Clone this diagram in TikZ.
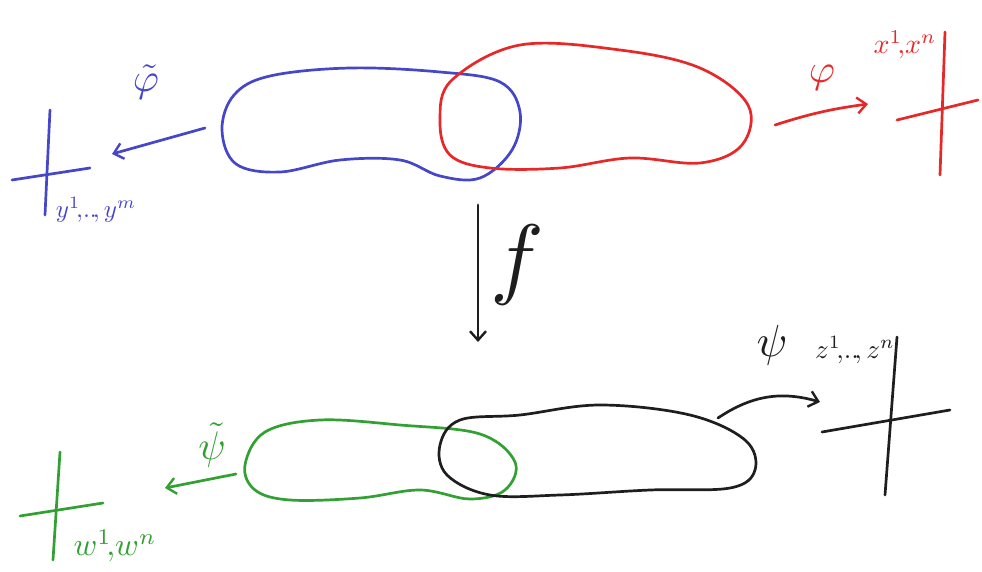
\documentclass[tikz,border=0pt]{standalone}
\usepackage{graphicx}
\usetikzlibrary{arrows.meta}
\definecolor{pblue}{RGB}{70,70,200}
\definecolor{pred}{RGB}{230,40,40}
\definecolor{pgreen}{RGB}{50,160,50}
\definecolor{pblack}{RGB}{30,30,30}
\tikzset{
  ink/.style={line width=2.7pt, line cap=round, line join=round},
  mapar/.style={ink, -{Straight Barb[length=9pt,width=16pt,line width=2.4pt]}},
  lab/.style={inner sep=0pt},
}
\begin{document}
\begin{tikzpicture}[x=1pt,y=-1pt]
\useasboundingbox (0,0) rectangle (982,572);
% blobs
\draw[ink,pblue] plot[smooth cycle, tension=0.6] coordinates {(222,130) (234,95) (270,76) (350,68) (440,72) (500,82) (520,112) (512,150) (480,178) (440,176) (400,160) (340,160) (280,172) (236,164)};
\draw[ink,pred] plot[smooth cycle, tension=0.6] coordinates {(440,120) (452,80) (520,45) (620,50) (700,68) (748,105) (742,145) (700,163) (630,158) (560,168) (490,168) (450,155)};
\draw[ink,pgreen] plot[smooth cycle, tension=0.6] coordinates {(245,465) (265,432) (320,420) (400,425) (480,434) (515,462) (505,490) (470,499) (420,490) (360,498) (290,500) (255,490)};
\draw[ink,pblack] plot[smooth cycle, tension=0.6] coordinates {(440,445) (460,420) (520,415) (600,405) (690,415) (745,440) (755,470) (730,488) (650,490) (560,495) (490,495) (447,475)};
% red chart
\coordinate (ra) at (775,125);
\coordinate (rb) at (868,104);
\draw[mapar,pred] (ra) to[bend left=5] (rb);
\node[lab,pred] (phi) at (822,78) {\scalebox{4}{$\varphi$}};
\node[lab,pred] (xs) at (905,45) {\scalebox{2.8}{$x^1\!,\!x^n$}};
\draw[ink,pred] (945,32) -- (940,175);
\draw[ink,pred] (897,120) -- (978,100);
% blue chart
\coordinate (ba) at (205,128);
\coordinate (bb) at (112,154);
\draw[mapar,pblue] (ba) -- (bb);
\node[lab,pblue] (tphi) at (146,82) {\scalebox{4}{$\tilde\varphi$}};
\node[lab,pblue] (ys) at (96,210) {\scalebox{2.5}{$y^1\!,\!..\!,y^m$}};
\draw[ink,pblue] (50,110) -- (45,215);
\draw[ink,pblue] (12,180) -- (90,168);
% f arrow
\coordinate (fa) at (478,205);
\coordinate (fb) at (478,342);
\draw[mapar,pblack] (fa) -- (fb);
\node[lab,pblack] (f) at (517,265) {\scalebox{9}{$f$}};
% black chart
\coordinate (ka) at (718,418);
\coordinate (kb) at (820,402);
\draw[mapar,pblack] (ka) to[bend left=25] (kb);
\node[lab,pblack] (psi) at (772,345) {\scalebox{4.5}{$\psi$}};
\node[lab,pblack] (zs) at (855,350) {\scalebox{2.7}{$z^1\!,\!..\!,z^n$}};
\draw[ink,pblack] (897,337) -- (885,495);
\draw[ink,pblack] (822,432) -- (950,410);
% green chart
\coordinate (ga) at (236,474);
\coordinate (gb) at (165,488);
\draw[mapar,pgreen] (ga) -- (gb);
\node[lab,pgreen] (tpsi) at (212,445) {\scalebox{4}{$\tilde\psi$}};
\node[lab,pgreen] (ws) at (115,546) {\scalebox{3.2}{$w^1\!,\!w^n$}};
\draw[ink,pgreen] (60,452) -- (53,560);
\draw[ink,pgreen] (20,516) -- (103,503);
\end{tikzpicture}
\end{document}
